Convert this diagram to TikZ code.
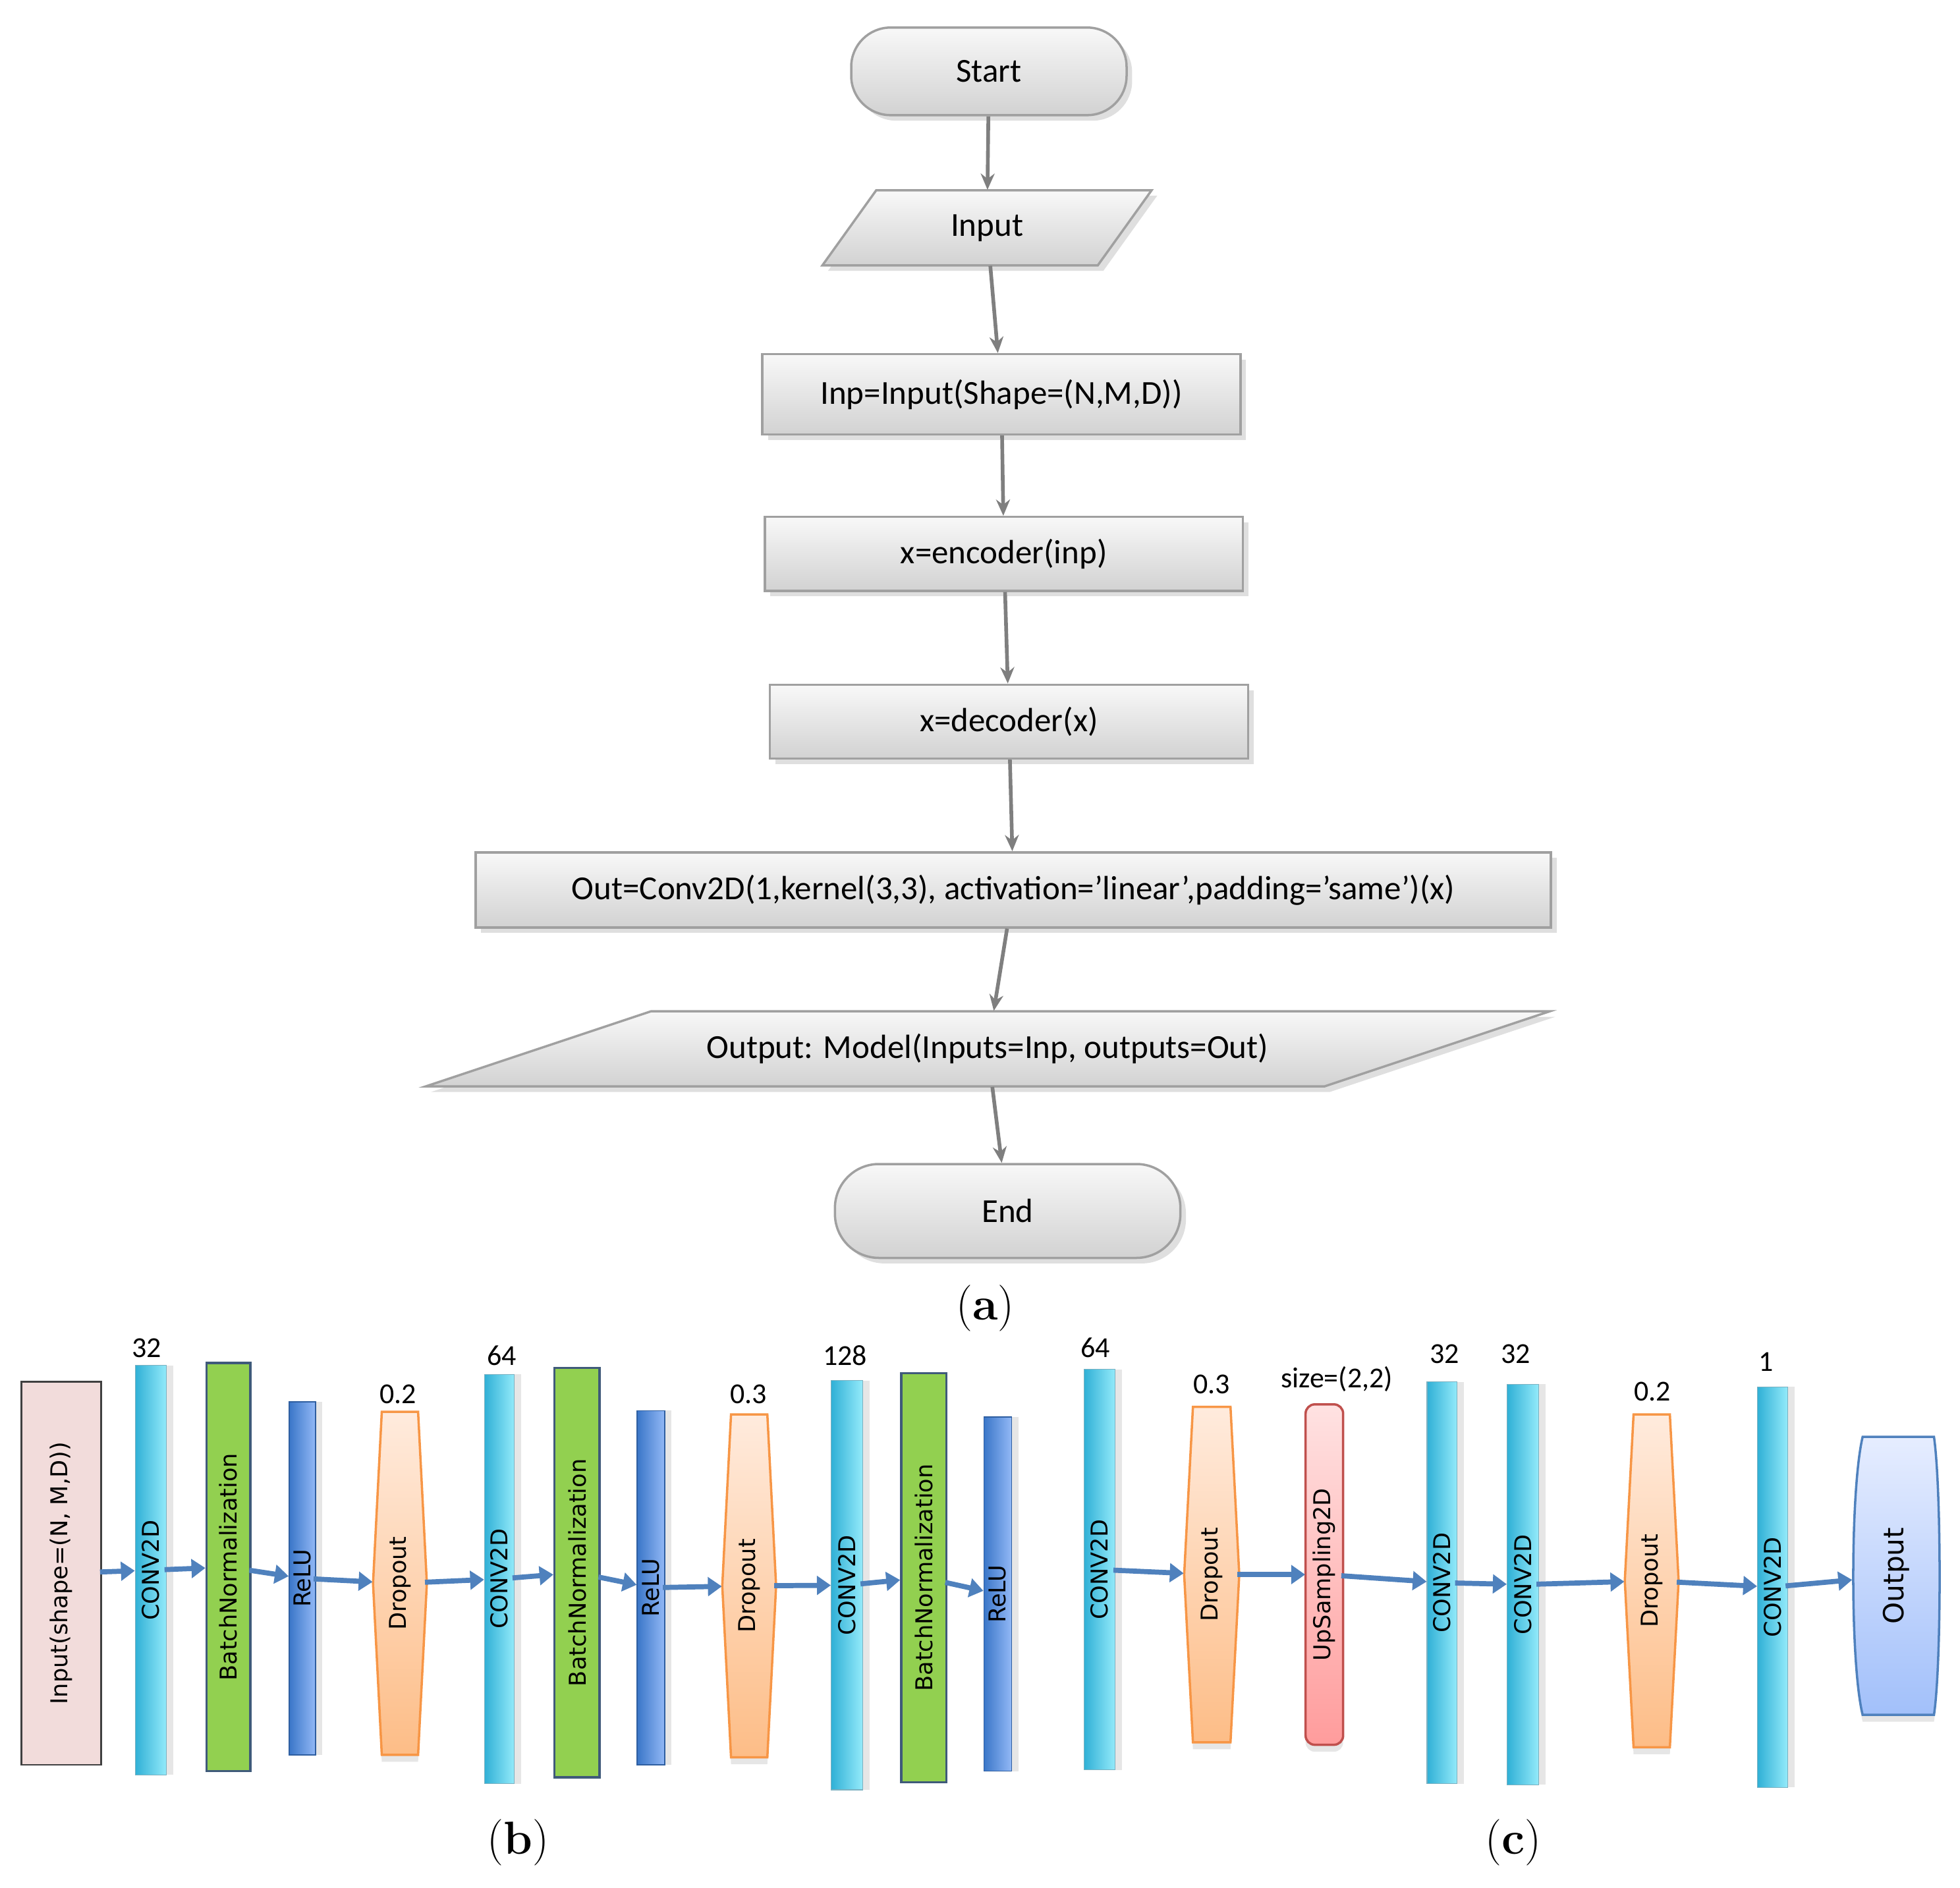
\documentclass[tikz,border=0pt]{standalone}
\usepackage{fontspec}
\setmainfont{Carlito}
\newfontfamily\dv{DejaVu Sans}
\newfontfamily\lm{Latin Modern Roman}
\usetikzlibrary{arrows.meta,shadows}
\definecolor{fgtop}{HTML}{F8F8F8}\definecolor{fgbot}{HTML}{D2D2D2}\definecolor{fgline}{HTML}{A0A0A0}
\definecolor{ctop}{HTML}{93EAFA}\definecolor{cbot}{HTML}{30B0D6}
\definecolor{bng}{HTML}{92D050}\definecolor{bnl}{HTML}{3F5A7A}
\definecolor{rtop}{HTML}{92B8F6}\definecolor{rbot}{HTML}{3A76C8}
\definecolor{dtop}{HTML}{FFEBDD}\definecolor{dbot}{HTML}{FDBD87}\definecolor{dl}{HTML}{F79646}
\definecolor{utop}{HTML}{FFE2E2}\definecolor{ubot}{HTML}{FF9C9C}\definecolor{ul}{HTML}{C0504D}
\definecolor{otop}{HTML}{E6EDFF}\definecolor{obot}{HTML}{A2C0FA}\definecolor{ol}{HTML}{4F81BD}
\definecolor{inpf}{HTML}{F2DCDB}\definecolor{arb}{HTML}{4F81BD}\definecolor{arg}{HTML}{7F7F7F}
\newcommand\fbx[7]{\node[#1, minimum width={(#4-#2)*0.019cm}, minimum height={(#5-#3)*0.019cm}] (#6) at ({(#2+#4)/2},{(#3+#5)/2}) {#7};}
\newcommand\vbx[7]{\node[#1, rotate=90, minimum width={(#5-#3)*0.019cm}, minimum height={(#4-#2)*0.019cm}] (#6) at ({(#2+#4)/2},{(#3+#5)/2}) {#7};}
\newcommand\drp[5]{\path[draw=dl, line width=1pt, top color=dtop, bottom color=dbot, drop shadow={opacity=0.2,shadow xshift=0pt,shadow yshift=-3pt}] ({#1+7},#2)--({#3-7},#2)--(#3,{(#2+#4)/2})--({#3-7},#4)--({#1+7},#4)--(#1,{(#2+#4)/2})--cycle;
\vbx{txt}{#1}{#2}{#3}{#4}{#5}{Dropout}}
\begin{document}
\begin{tikzpicture}[x=0.019cm,y=-0.019cm,
  ftxt/.style={font=\fontsize{14.5}{17}\selectfont, inner sep=0pt},
  fc/.style={ftxt, draw=fgline, line width=1pt, top color=fgtop, bottom color=fgbot, drop shadow={opacity=0.25}},
  txt/.style={inner sep=0pt, font=\dv\fontsize{10}{12}\selectfont},
  conv/.style={txt, left color=cbot, right color=ctop, draw=cbot!70!black!60, line width=0.3pt, drop shadow={opacity=0.2,shadow xshift=3pt,shadow yshift=0pt}},
  bn/.style={txt, fill=bng, draw=bnl, line width=1pt},
  relu/.style={txt, left color=rbot, right color=rtop, draw=rbot!80!black, line width=0.4pt, drop shadow={opacity=0.2,shadow xshift=3pt,shadow yshift=0pt}},
  num/.style={inner sep=0pt, font=\fontsize{12.5}{14}\selectfont},
  ga/.style={draw=arg, line width=1.6pt, -{Stealth[length=7pt,width=6pt]}},
  ba/.style={draw=arb, line width=2.2pt, -{Triangle[length=6pt,width=8pt]}, shorten <=-1pt},
  capt/.style={inner sep=0pt, font=\lm\fontsize{20}{24}\selectfont}]
\useasboundingbox (0,0) rectangle (1565.8,1508.4);
% ---- flowchart (a)
\fbx{fc, rounded corners=17pt}{680}{22}{900}{92}{start}{Start}
\path[draw=fgline, line width=1pt, top color=fgtop, bottom color=fgbot, drop shadow={opacity=0.25}] (700,152)--(920,152)--(877,212)--(657,212)--cycle;
\fbx{ftxt}{690}{152}{887}{212}{input}{Input}
\fbx{fc}{609}{283}{991}{347}{inp}{Inp=Input(Shape=(N,M,D))}
\fbx{fc}{611}{413}{993}{472}{enc}{x=encoder(inp)}
\fbx{fc}{615}{547}{997}{606}{dec}{x=decoder(x)}
\fbx{fc}{380}{681}{1239}{741}{conv}{Out=Conv2D(1,kernel(3,3), activation=’linear’,padding=’same’)(x)}
\path[draw=fgline, line width=1pt, top color=fgtop, bottom color=fgbot, drop shadow={opacity=0.25}] (520,808)--(1238,808)--(1058,868)--(340,868)--cycle;
\fbx{ftxt}{600}{808}{978}{868}{outp}{Output: Model(Inputs=Inp, outputs=Out)}
\fbx{fc, rounded corners=19pt}{667}{930}{943}{1005}{end}{End}
\draw[ga] (start) -- (input);
\draw[ga] (input) -- (inp);
\draw[ga] (inp) -- (enc);
\draw[ga] (enc) -- (dec);
\draw[ga] (dec) -- (conv);
\draw[ga] (conv) -- (outp);
\draw[ga] (outp) -- (end);
\node[capt] (capa) at (787,1045) {(\textbf{a})};
% ---- (b)
\vbx{txt, fill=inpf, draw=black!75, line width=0.8pt}{17}{1104}{81}{1410}{in}{Input(shape=(N, M,D))}
\vbx{conv}{108}{1091}{133}{1418}{c1}{CONV2D}
\vbx{bn}{165}{1089}{200}{1415}{b1}{BatchNormalization}
\vbx{relu}{231}{1120}{252}{1402}{r1}{ReLU}
\drp{298}{1128}{341}{1402}{d1}
\vbx{conv}{387}{1098}{411}{1425}{c2}{CONV2D}
\vbx{bn}{443}{1093}{479}{1420}{b2}{BatchNormalization}
\vbx{relu}{509}{1127}{531}{1410}{r2}{ReLU}
\drp{577}{1130}{620}{1404}{d2}
\vbx{conv}{664}{1103}{689}{1430}{c3}{CONV2D}
\vbx{bn}{720}{1097}{756}{1424}{b3}{BatchNormalization}
\vbx{relu}{786}{1132}{808}{1415}{r3}{ReLU}
\node[num] (n1) at (117,1077) {32};
\node[num] (n2) at (318,1114) {0.2};
\node[num] (n3) at (401,1083) {64};
\node[num] (n4) at (598,1114) {0.3};
\node[num] (n5) at (675,1083) {128};
\foreach \a/\b in {in/c1,c1/b1,b1/r1,r1/d1,d1/c2,c2/b2,b2/r2,r2/d2,d2/c3,c3/b3,b3/r3}
  \draw[ba] (\a) -- (\b);
\node[capt] (capb) at (414,1472) {(\textbf{b})};
% ---- (c)
\vbx{conv}{866}{1094}{891}{1414}{c4}{CONV2D}
\drp{946}{1124}{990}{1392}{d3}
\path[draw=ul, line width=1pt, top color=utop, bottom color=ubot, rounded corners=4pt, drop shadow={opacity=0.2,shadow xshift=0pt,shadow yshift=-3pt}] (1043,1122) rectangle (1073,1394);
\vbx{txt}{1043}{1122}{1073}{1394}{u1}{UpSampling2D}
\vbx{conv}{1140}{1104}{1164}{1425}{c5}{CONV2D}
\vbx{conv}{1204}{1106}{1229}{1426}{c6}{CONV2D}
\drp{1298}{1130}{1341}{1396}{d4}
\vbx{conv}{1404}{1108}{1428}{1428}{c7}{CONV2D}
\path[draw=ol, line width=1pt, top color=otop, bottom color=obot, drop shadow={opacity=0.2,shadow xshift=0pt,shadow yshift=-3pt}]
  (1488,1148) -- (1545,1148) .. controls (1551,1190) and (1551,1330) .. (1545,1370) -- (1488,1370) .. controls (1478,1330) and (1478,1190) .. (1488,1148) -- cycle;
\vbx{txt, font=\dv\fontsize{12}{14}\selectfont}{1480}{1148}{1550}{1370}{out}{Output}
\node[num] (n6) at (875,1077) {64};
\node[num] (n7) at (968,1106) {0.3};
\node[num] (n8) at (1068,1102) {size=(2,2)};
\node[num] (n9) at (1154,1082) {32};
\node[num] (n10) at (1211,1082) {32};
\node[num] (n11) at (1320,1112) {0.2};
\node[num] (n12) at (1411,1088) {1};
\foreach \a/\b in {c4/d3,d3/u1,u1/c5,c5/c6,c6/d4,d4/c7,c7/out}
  \draw[ba] (\a) -- (\b);
\node[capt] (capc) at (1209,1472) {(\textbf{c})};
\end{tikzpicture}
\end{document}
